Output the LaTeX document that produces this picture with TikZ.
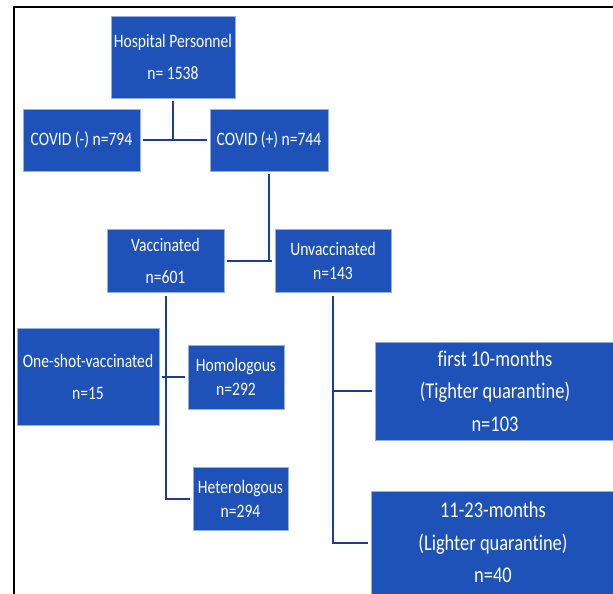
\documentclass[tikz,border=0pt]{standalone}
\usepackage{fontspec}
\newfontfamily\boxfont[FakeStretch=0.82, Ligatures=NoCommon]{Carlito}
\usetikzlibrary{calc}

\definecolor{boxblue}{RGB}{31,82,184}
\definecolor{edgeblue}{RGB}{150,175,225}
\definecolor{linkblue}{RGB}{28,60,150}

\begin{document}
\begin{tikzpicture}[x=1pt, y=-1pt]
    \tikzstyle{box} = [rectangle, fill=boxblue, draw=edgeblue, line width=0.6pt, text=white, align=center, inner sep=0pt, font=\boxfont\fontsize{19}{32}\selectfont];
    \tikzstyle{tight} = [box, font=\boxfont\fontsize{19}{24}\selectfont];
    \tikzstyle{wide} = [box, font=\boxfont\fontsize{22.5}{32.5}\selectfont];
    \tikzstyle{link} = [draw=linkblue, line width=2pt, shorten <=3pt, shorten >=3pt];

    \useasboundingbox (0, 0) rectangle (613, 594);
    \draw[line width=2.5pt, line cap=rect] (14, 594) -- (14, 7) -- (613, 7);

    \node[box, minimum width=124, minimum height=82] at (173, 57) (hosp) {Hospital Personnel\\n= 1538};
    \node[box, minimum width=117, minimum height=62] at (81.5, 140) (neg) {COVID (-) n=794};
    \node[box, minimum width=118, minimum height=62] at (269, 140) (pos) {COVID (+) n=744};

    \node[box, minimum width=117, minimum height=63] at (165.5, 261) (vac) {Vaccinated\\n=601};
    \node[tight, minimum width=116, minimum height=63] at (333, 261) (unvac) {Unvaccinated\\n=143};

    \node[box, minimum width=142, minimum height=97] at (88, 377) (one) {One-shot-vaccinated\\n=15};
    \node[tight, minimum width=96, minimum height=64] at (236, 377) (homo) {Homologous\\n=292};
    \node[tight, minimum width=95, minimum height=63] at (240.5, 498.5) (het) {Heterologous\\n=294};

    \node[wide, minimum width=240, minimum height=98] at (495, 391) (early) {first 10-months\\(Tighter quarantine)\\n=103};
    \node[wide, minimum width=244, minimum height=103] at (493, 542.5) (late) {11-23-months\\(Lighter quarantine)\\n=40};

    \draw[link, shorten >=0pt] (hosp.south) -- (hosp.south |- neg.east);
    \draw[link] (neg.east) -- (pos.west);

    \draw[link, shorten >=0pt] (pos.south) -- (pos.south |- vac.east);
    \draw[link] (vac.east) -- (unvac.west);

    \draw[link] (vac.south) |- (het.west);
    \draw[link] (one.east) -- (homo.west);

    \draw[link] (unvac.south) |- (late.west);
    \draw[link, shorten <=0pt] (unvac.south |- early.west) -- (early.west);
\end{tikzpicture}
\end{document}
